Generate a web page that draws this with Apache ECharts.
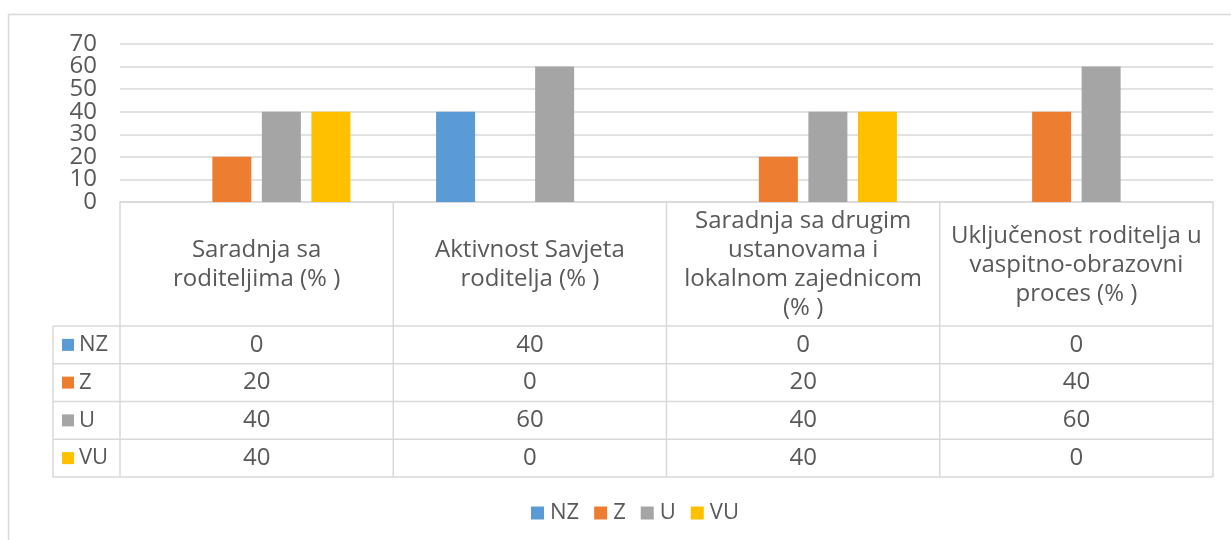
<!DOCTYPE html>
<html>
<head>
<meta charset="utf-8">
<script src="https://cdn.jsdelivr.net/npm/echarts@6/dist/echarts.min.js"></script>
<style>
  html, body { margin: 0; padding: 0; background: #fff; }
  #chart { width: 1231px; height: 540px; }
</style>
</head>
<body>
<div id="chart"></div>
<script>
  // kategorije (zaglavlje tabele)
  var categories = [
    'Saradnja sa\nroditeljima (% )',
    'Aktivnost Savjeta\nroditelja (% )',
    'Saradnja sa drugim\nustanovama i\nlokalnom zajednicom\n(% )',
    'Uključenost roditelja u\nvaspitno-obrazovni\nproces (% )'
  ];
  var seriesNames = ['NZ', 'Z', 'U', 'VU'];
  var NZ = [0, 40, 0, 0];
  var Z = [20, 0, 20, 40];
  var U = [40, 60, 40, 60];
  var VU = [40, 0, 40, 0];
  var yTicks = [0, 10, 20, 30, 40, 50, 60, 70];

  var seriesData = [NZ, Z, U, VU];
  var colors = ['#5b9bd5', '#ed7d31', '#a5a5a5', '#ffc000'];
  var font = 'Open Sans';
  var textColor = '#595959';
  var lineColor = '#d9d9d9';
  var fontSize = 24;

  var chart = echarts.init(document.getElementById('chart'));

  chart.setOption({
    animation: false,
    color: colors,
    textStyle: { fontFamily: font, color: textColor },
    grid: { left: 120, right: 18, top: 44, bottom: 338, containLabel: false },
    legend: {
      data: seriesNames,
      bottom: 11,
      left: 526,
      icon: 'rect',
      itemWidth: 13,
      itemHeight: 13,
      itemGap: 15,
      textStyle: { fontSize: fontSize - 2, color: textColor, fontFamily: font, padding: [0, 0, 0, 1] }
    },
    xAxis: {
      type: 'category',
      data: categories,
      axisLine: { lineStyle: { color: lineColor, width: 1.5 } },
      axisTick: { show: false },
      axisLabel: { show: false }
    },
    yAxis: {
      type: 'value',
      min: yTicks[0],
      max: yTicks[yTicks.length - 1],
      interval: 10,
      axisLine: { show: false },
      axisTick: { show: false },
      // oznake se crtaju ispod rucno (gusto su poredane pa ih ECharts sakriva)
      axisLabel: { show: false },
      splitLine: { lineStyle: { color: lineColor, width: 1.5 } }
    },
    series: seriesNames.map(function (name, i) {
      return {
        name: name,
        type: 'bar',
        data: seriesData[i],
        barWidth: 39,
        barGap: '27%'
      };
    })
  });

  // tabela podataka ispod grafikona
  function buildTable() {
    var c0 = chart.convertToPixel({ xAxisIndex: 0 }, 0);
    var c1 = chart.convertToPixel({ xAxisIndex: 0 }, 1);
    var band = c1 - c0;
    var y0 = chart.convertToPixel({ yAxisIndex: 0 }, 0);
    var gridLeft = c0 - band / 2;
    var gridRight = gridLeft + band * categories.length;
    var headerH = 124;
    var rowH = 37.75;
    var legendLeft = 53;
    var rowsTop = y0 + headerH;
    var tableBottom = rowsTop + rowH * seriesNames.length;
    var line = { stroke: lineColor, lineWidth: 1.5 };
    var fontStr = fontSize + 'px "' + font + '"';
    var els = [];

    // okvir
    els.push({ type: 'rect', shape: { x: 8.5, y: 14.5, width: 1260, height: 560 }, style: { fill: null, stroke: lineColor, lineWidth: 1.5 }, silent: true });

    // oznake y ose
    yTicks.forEach(function (t) {
      els.push({
        type: 'text', x: gridLeft - 23, y: chart.convertToPixel({ yAxisIndex: 0 }, t), silent: true,
        style: { text: String(t), fill: textColor, font: fontStr, align: 'right', verticalAlign: 'middle' }
      });
    });

    // vertikalne linije
    for (var i = 0; i <= categories.length; i++) {
      var x = gridLeft + band * i;
      els.push({ type: 'line', shape: { x1: x, y1: y0, x2: x, y2: tableBottom }, style: line, silent: true });
    }
    els.push({ type: 'line', shape: { x1: legendLeft, y1: rowsTop, x2: legendLeft, y2: tableBottom }, style: line, silent: true });

    // horizontalne linije
    for (var r = 0; r <= seriesNames.length; r++) {
      var y = rowsTop + rowH * r;
      els.push({ type: 'line', shape: { x1: legendLeft, y1: y, x2: gridRight, y2: y }, style: line, silent: true });
    }

    // zaglavlje
    categories.forEach(function (cat, j) {
      var cx = chart.convertToPixel({ xAxisIndex: 0 }, j);
      els.push({
        type: 'text', x: cx, y: y0 + headerH / 2 + 1, silent: true,
        style: { text: cat, fill: textColor, font: fontStr, align: 'center', verticalAlign: 'middle', lineHeight: 29 }
      });
    });

    // redovi
    seriesNames.forEach(function (name, s) {
      var cy = rowsTop + rowH * s + rowH / 2;
      els.push({ type: 'rect', shape: { x: legendLeft + 9, y: cy - 6, width: 12, height: 12 }, style: { fill: colors[s] }, silent: true });
      els.push({
        type: 'text', x: legendLeft + 26, y: cy, silent: true,
        style: { text: name, fill: textColor, font: (fontSize - 2) + 'px "' + font + '"', align: 'left', verticalAlign: 'middle' }
      });
      seriesData[s].forEach(function (v, j) {
        var cx = chart.convertToPixel({ xAxisIndex: 0 }, j);
        els.push({
          type: 'text', x: cx, y: cy, silent: true,
          style: { text: String(v), fill: textColor, font: fontStr, align: 'center', verticalAlign: 'middle' }
        });
      });
    });

    chart.setOption({ graphic: { elements: els } });
  }

  buildTable();
</script>
</body>
</html>
